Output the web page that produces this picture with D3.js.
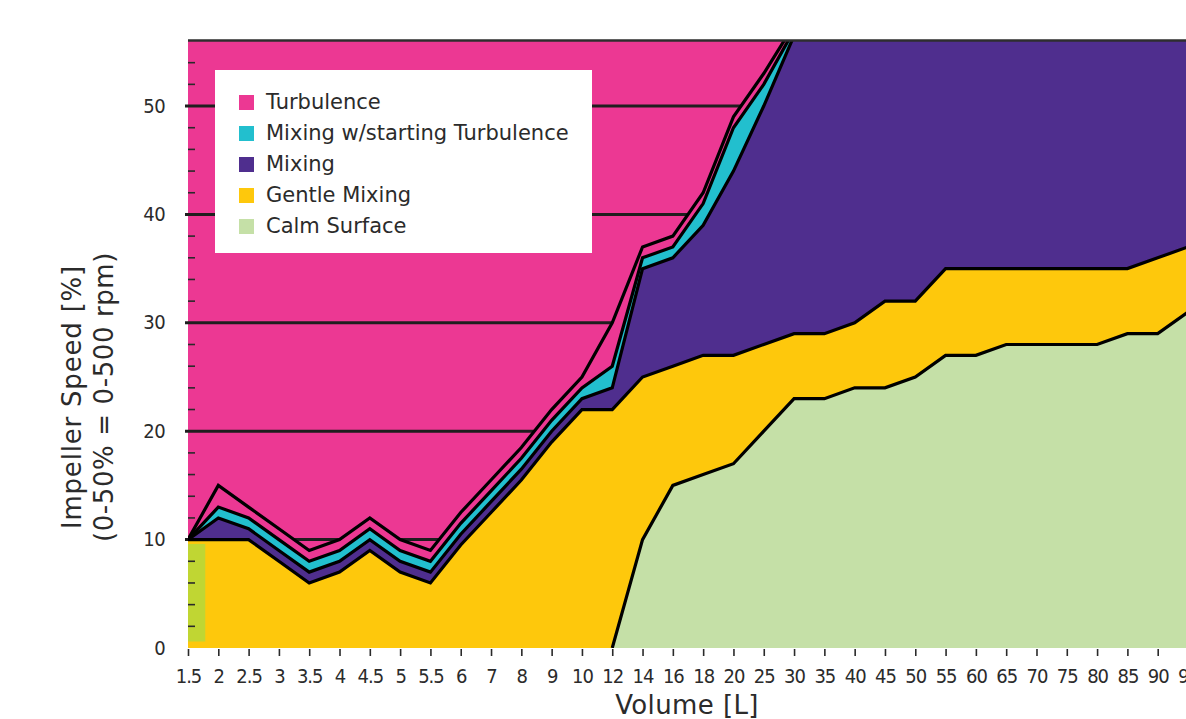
<!DOCTYPE html>
<html>
<head>
<meta charset="utf-8">
<script src="https://cdn.jsdelivr.net/npm/d3@7"></script>
<style>
  body { margin: 0; background: #fff; overflow: hidden; }
  svg { display: block; font-family: 'DejaVu Sans', Verdana, sans-serif; }
  .tickLabel { font-family: 'DejaVu Sans', sans-serif; font-stretch: semi-condensed; }
</style>
</head>
<body>
<script>
const volumes = ['1.5', '2', '2.5', '3', '3.5', '4', '4.5', '5', '5.5', '6', '7', '8', '9', '10', '12', '14', '16', '18', '20',
    '25', '30', '35', '40', '45', '50', '55', '60', '65', '70', '75', '80', '85', '90', '95']

// layer thickness per volume, bottom layer first
const calmSurface = [0, 0, 0, 0, 0, 0, 0, 0, 0, 0, 0, 0, 0, 0, 0, 10, 15, 16, 17, 20, 23, 23, 24, 24, 25, 27, 27, 28, 28, 28, 28, 29, 29, 31]
const gentleMixing = [10, 10, 10, 8, 6, 7, 9, 7, 6, 9.5, 12.5, 15.5, 19, 22, 22, 15, 11, 11, 10, 8, 6, 6, 6, 8, 7, 8, 8, 7, 7, 7, 7, 6, 7, 6]
const mixing = [0, 2, 1, 1, 1, 1, 1, 1, 1, 1, 1, 1, 1, 1, 2, 10, 10, 12, 17, 22, 27.5, 31, 30, 28, 28, 25, 25, 25, 25, 25, 25, 25, 24, 23]
const mixingStartTurb = [0, 1, 1, 1, 1, 1, 1, 1, 1, 1, 1, 1, 1, 1, 2, 1, 1, 2, 4, 2, 0.5, 0, 0, 0, 0, 0, 0, 0, 0, 0, 0, 0, 0, 0]
const turbulence = [0, 2, 1, 1, 1, 1, 1, 1, 1, 1, 1, 1, 1, 1, 4, 1, 1, 1, 1, 1, 0.5, 0, 0, 0, 0, 0, 0, 0, 0, 0, 0, 0, 0, 0]

const legendNames = ['Turbulence', 'Mixing w/starting Turbulence', 'Mixing', 'Gentle Mixing', 'Calm Surface']
const yTicks = [0, 10, 20, 30, 40, 50]
const startPatch = { volume: '1.5', low: 0.6, high: 9.6 }

const width = 1186, height = 719
const plot = { left: 188, right: 1188, top: 41, bottom: 648 }

const keys = ['calm', 'gentle', 'mixing', 'mixStart', 'turb']
const colors = {
    turb: '#ec3893',
    mixStart: '#22bfce',
    mixing: '#4f2e8e',
    gentle: '#fec80c',
    calm: '#c5e0a7'
}
const legendKeys = ['turb', 'mixStart', 'mixing', 'gentle', 'calm']

const rows = volumes.map((v, i) => ({
    volume: v,
    calm: calmSurface[i],
    gentle: gentleMixing[i],
    mixing: mixing[i],
    mixStart: mixingStartTurb[i],
    turb: turbulence[i]
}))

const stacked = d3.stack().keys(keys)(rows)

const x = d3.scalePoint().domain(volumes).range([plot.left, plot.right])
const y = d3.scaleLinear().domain([0, 56]).range([plot.bottom, plot.top])

const svg = d3.select('body').append('svg')
    .attr('width', width)
    .attr('height', height)

svg.append('defs').append('clipPath').attr('id', 'plotClip')
    .append('rect')
    .attr('x', plot.left)
    .attr('y', plot.top)
    .attr('width', plot.right - plot.left)
    .attr('height', plot.bottom - plot.top)

// plot background is the turbulence colour
svg.append('rect')
    .attr('x', plot.left)
    .attr('y', plot.top)
    .attr('width', plot.right - plot.left)
    .attr('height', plot.bottom - plot.top)
    .attr('fill', colors.turb)

svg.append('g').attr('class', 'grid')
    .selectAll('line')
    .data(yTicks.filter(d => d > 0))
    .join('line')
    .attr('x1', plot.left - 3)
    .attr('x2', plot.right)
    .attr('y1', d => y(d))
    .attr('y2', d => y(d))
    .attr('stroke', '#1e1e1e')
    .attr('stroke-width', 3)

const area = d3.area()
    .x(d => x(d.data.volume))
    .y0(d => y(d[0]))
    .y1(d => y(d[1]))

const layers = svg.append('g').attr('clip-path', 'url(#plotClip)')

layers.selectAll('path.layer')
    .data(stacked)
    .join('path')
    .attr('class', 'layer')
    .attr('d', area)
    .attr('fill', d => colors[d.key])

layers.append('rect')
    .attr('x', x(startPatch.volume))
    .attr('width', x.step() * 0.57)
    .attr('y', y(startPatch.high))
    .attr('height', y(startPatch.low) - y(startPatch.high))
    .attr('fill', '#c0d633')

layers.selectAll('path.edge')
    .data(stacked)
    .join('path')
    .attr('class', 'edge')
    .attr('d', s => d3.line()
        .defined((d, i) => s.key !== 'calm' || d[1] > 0 || (s[i + 1] && s[i + 1][1] > 0))
        .x(d => x(d.data.volume))
        .y(d => y(d[1]))(s))
    .attr('fill', 'none')
    .attr('stroke', '#000')
    .attr('stroke-width', 3.2)
    .attr('stroke-linejoin', 'miter')

// minor ticks inside the left edge
svg.append('g').attr('class', 'minor')
    .selectAll('line')
    .data(d3.range(2, 56, 2).filter(d => d % 10 !== 0))
    .join('line')
    .attr('x1', plot.left)
    .attr('x2', plot.left + 7)
    .attr('y1', d => y(d))
    .attr('y2', d => y(d))
    .attr('stroke', '#2a2a2a')
    .attr('stroke-width', 1.6)

svg.append('line')
    .attr('x1', plot.left)
    .attr('x2', plot.right)
    .attr('y1', plot.top - 0.5)
    .attr('y2', plot.top - 0.5)
    .attr('stroke', '#2e2e2e')
    .attr('stroke-width', 2.6)

const yAxis = svg.append('g')
    .attr('transform', `translate(${plot.left - 3},0)`)
    .call(d3.axisLeft(y).tickValues(yTicks).tickSize(0).tickPadding(20))

yAxis.select('.domain').remove()
yAxis.selectAll('text')
    .attr('class', 'tickLabel')
    .attr('dy', '0.3em')
    .attr('font-size', 20)
    .attr('letter-spacing', -0.6)
    .attr('fill', '#2b2b2b')

const xAxis = svg.append('g')
    .attr('transform', `translate(0,${plot.bottom + 1})`)
    .call(d3.axisBottom(x).tickSize(7))

xAxis.select('.domain').remove()
xAxis.selectAll('.tick line')
    .attr('stroke', '#2a2a2a')
    .attr('stroke-width', 1.6)
xAxis.selectAll('text')
    .attr('class', 'tickLabel')
    .attr('y', 34)
    .attr('dy', 0)
    .attr('font-size', 20)
    .attr('letter-spacing', -1)
    .attr('fill', '#2b2b2b')

svg.append('text')
    .attr('x', 687)
    .attr('y', 714)
    .attr('text-anchor', 'middle')
    .attr('font-size', 26)
    .attr('letter-spacing', 0.4)
    .attr('fill', '#2b2b2b')
    .text('Volume [L]')

svg.append('text')
    .attr('transform', 'translate(81,397) rotate(-90)')
    .attr('text-anchor', 'middle')
    .attr('font-size', 26)
    .attr('letter-spacing', 0.8)
    .attr('fill', '#2b2b2b')
    .text('Impeller Speed [%]')

svg.append('text')
    .attr('transform', 'translate(113,397) rotate(-90)')
    .attr('text-anchor', 'middle')
    .attr('font-size', 26)
    .attr('letter-spacing', 0.6)
    .attr('fill', '#2b2b2b')
    .text('(0-50% = 0-500 rpm)')

const legend = svg.append('g').attr('transform', 'translate(215,70)')

legend.append('rect')
    .attr('width', 377)
    .attr('height', 183)
    .attr('fill', '#fff')

const items = legend.selectAll('g.item')
    .data(legendKeys)
    .join('g')
    .attr('class', 'item')
    .attr('transform', (d, i) => `translate(24,${25 + i * 31})`)

items.append('rect')
    .attr('width', 15)
    .attr('height', 15)
    .attr('fill', d => colors[d])

items.append('text')
    .attr('x', 27)
    .attr('y', 14)
    .attr('font-size', 21)
    .attr('fill', '#2b2b2b')
    .text((d, i) => legendNames[i])
</script>
</body>
</html>
